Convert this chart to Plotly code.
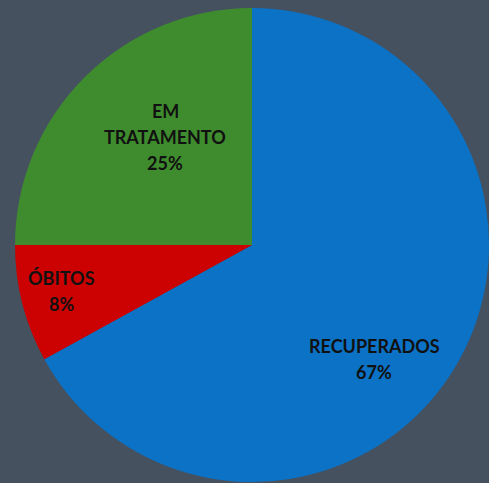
import plotly.graph_objects as go

# dados do gráfico
categorias = ["RECUPERADOS", "ÓBITOS", "EM TRATAMENTO"]
rotulos = ["RECUPERADOS", "ÓBITOS", "EM<br>TRATAMENTO"]
valores = [67, 8, 25]
cores = ["#0b72c6", "#cc0202", "#3f8c2e"]

W, H = 489, 483

fig = go.Figure(go.Pie(
    labels=categorias,
    values=valores,
    sort=False,
    direction="clockwise",
    rotation=0,
    marker=dict(colors=cores, line=dict(width=0)),
    textinfo="none",
    hoverinfo="label+percent",
    showlegend=False,
    domain=dict(x=[15 / W, 1.0], y=[1 / H, 475 / H]),
))

# posição (px) do centro de cada bloco de rótulo
pos_rotulos = {
    "RECUPERADOS": (374, 346),
    "ÓBITOS": (61, 278),
    "EM TRATAMENTO": (165, 111),
}
passo = 26

anotacoes = []
total = sum(valores)
for cat, rot, v in zip(categorias, rotulos, valores):
    x0, y0 = pos_rotulos[cat]
    linhas = rot.split("<br>") + [f"{round(100 * v / total)}%"]
    for i, linha in enumerate(linhas):
        anotacoes.append(dict(
            text=f"<b>{linha}</b>",
            x=x0 / W,
            y=1 - (y0 + i * passo) / H,
            xref="paper", yref="paper",
            xanchor="center", yanchor="middle",
            showarrow=False,
            font=dict(family="Lato", size=18, color="#111111"),
        ))

fig.update_layout(
    width=W,
    height=H,
    margin=dict(l=0, r=0, t=0, b=0),
    paper_bgcolor="#45515f",
    plot_bgcolor="#45515f",
    annotations=anotacoes,
)

# tira a margem padrão do <body> para o gráfico ocupar a janela toda
fig.write_html(
    "out.html",
    config={"displayModeBar": False},
    post_script="document.body.style.margin='0';",
)
